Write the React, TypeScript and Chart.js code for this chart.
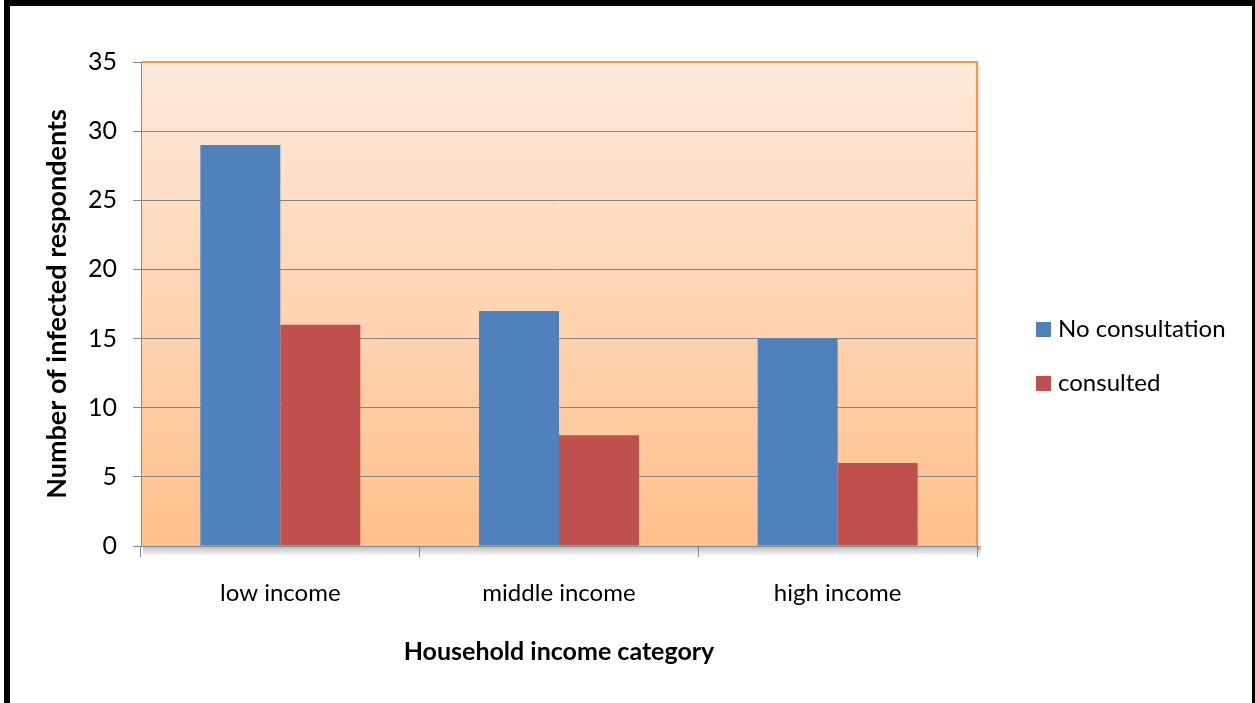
import React, { useEffect, useRef } from "react";
import { Chart, registerables } from "chart.js";

Chart.register(...registerables);

const categories = ["low income", "middle income", "high income"];
const noConsultation = [29, 17, 15];
const consulted = [16, 8, 6];
const seriesLabels = ["No consultation", "consulted"];
const yTicksMax = 35;
const yStep = 5;

const FONT = "Lato, 'Open Sans', sans-serif";

const bgPlugin = {
  id: "bgPlugin",
  beforeDraw(chart: any) {
    const { ctx, chartArea: a } = chart;
    ctx.save();
    const g = ctx.createLinearGradient(0, a.top, 0, a.bottom);
    g.addColorStop(0, "#FDE9DA");
    g.addColorStop(1, "#FFC08B");
    ctx.fillStyle = g;
    ctx.fillRect(a.left, a.top, a.right - a.left, a.bottom - a.top);
    const s = ctx.createLinearGradient(0, a.bottom, 0, a.bottom + 10);
    s.addColorStop(0, "rgba(0,0,0,0.28)");
    s.addColorStop(1, "rgba(0,0,0,0)");
    ctx.fillStyle = s;
    ctx.fillRect(a.left + 2, a.bottom, a.right - a.left + 2, 10);
    const r = ctx.createLinearGradient(a.right, 0, a.right + 5, 0);
    r.addColorStop(0, "rgba(0,0,0,0.15)");
    r.addColorStop(1, "rgba(0,0,0,0)");
    ctx.fillStyle = r;
    ctx.fillRect(a.right, a.top + 4, 5, a.bottom - a.top);
    ctx.restore();
  },
  afterDatasetsDraw(chart: any) {
    const { ctx, chartArea: a } = chart;
    ctx.save();
    ctx.strokeStyle = "#F79646";
    ctx.lineWidth = 2;
    ctx.beginPath();
    ctx.moveTo(a.left + 1, a.top);
    ctx.lineTo(a.right, a.top);
    ctx.lineTo(a.right, a.bottom);
    ctx.stroke();
    ctx.restore();
  },
  afterDraw(chart: any) {
    const { ctx } = chart;
    ctx.save();
    ctx.font = `24px ${FONT}`;
    ctx.textBaseline = "middle";
    const ys = [329, 383];
    chart.data.datasets.forEach((ds: any, i: number) => {
      ctx.fillStyle = ds.backgroundColor;
      ctx.fillRect(1036, ys[i] - 7, 15, 15);
      ctx.fillStyle = "#000";
      ctx.fillText(ds.label, 1058, ys[i]);
    });
    ctx.restore();
  },
};

export default function App() {
  const ref = useRef<HTMLCanvasElement>(null);
  useEffect(() => {
    const chart = new Chart(ref.current!, {
      type: "bar",
      data: {
        labels: categories,
        datasets: [
          { label: seriesLabels[0], data: noConsultation, backgroundColor: "#4F81BD", categoryPercentage: 0.574, barPercentage: 1 },
          { label: seriesLabels[1], data: consulted, backgroundColor: "#C0504D", categoryPercentage: 0.574, barPercentage: 1 },
        ],
      },
      options: {
        responsive: false,
        animation: false,
        layout: { padding: { top: 62, right: 278, bottom: 0, left: 0 } },
        plugins: { legend: { display: false }, tooltip: { enabled: false } },
        scales: {
          x: {
            afterFit: (s: any) => { s.height = 157; },
            grid: { display: true, drawOnChartArea: false, tickLength: 11, color: "#868686", offset: true },
            border: { display: true, color: "#868686", width: 1 },
            ticks: { padding: 22, color: "#000", font: { family: FONT, size: 24 } },
            title: {
              display: true,
              text: "Household income category",
              color: "#000",
              font: { family: FONT, size: 25, weight: "bold" },
              padding: { top: 0, bottom: 36 },
            },
          },
          y: {
            min: 0,
            max: yTicksMax,
            afterFit: (s: any) => { s.width = 141; },
            grid: { color: "#868686", tickLength: 8 },
            border: { display: true, color: "#868686", width: 1 },
            ticks: { stepSize: yStep, padding: 16, color: "#000", font: { family: FONT, size: 25 } },
            title: {
              display: true,
              text: "Number of infected respondents",
              color: "#000",
              font: { family: FONT, size: 27, weight: "bold" },
              padding: { top: 41, bottom: 0 },
            },
          },
        },
      },
      plugins: [bgPlugin],
    } as any);
    return () => chart.destroy();
  }, []);
  return (
    <div style={{ position: "fixed", left: 0, top: 0, width: 1255, height: 703, background: "#fff" }}>
      <canvas ref={ref} width={1255} height={703} style={{ position: "absolute", left: 0, top: 0 }} />
      <div
        style={{
          position: "absolute",
          left: 4,
          top: 0,
          width: 1251,
          height: 703,
          boxSizing: "border-box",
          borderTop: "6px solid #000",
          borderLeft: "6px solid #000",
          borderRight: "3px solid #000",
          pointerEvents: "none",
        }}
      />
    </div>
  );
}
